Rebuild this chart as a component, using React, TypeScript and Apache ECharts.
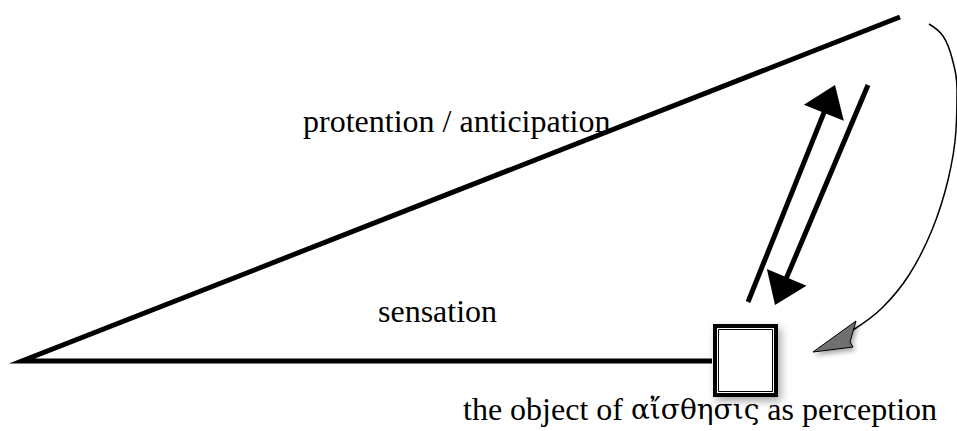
import React, { useEffect, useRef } from "react";
import * as echarts from "echarts";

const W = 957;
const H = 431;

// Diagram geometry (pixel space of the reference)
const triangleEdges: number[][] = [[900, 17], [22, 361], [712, 361]];
const doubleArrows: number[][] = [
  [748, 302, 835, 85],
  [868, 85, 775, 305],
];
const feedbackCurve: number[][] = [
  [929, 24], [943, 36], [952, 58], [957, 90], [956, 130], [948, 180],
  [932, 230], [909, 275], [882, 308], [853, 330],
];
const grayHead: number[][] = [[813, 352], [856, 321], [850, 342], [853, 347]];
const objectBox: number[][] = [[713, 324, 778, 397]];
const labelTexts: string[] = [
  "protention / anticipation",
  "sensation",
  "the object of {g|αἴσθησις} as perception",
];
const labelAnchors: number[][] = [
  [303, 121, 0],
  [378, 311, 1],
  [463, 409, 2],
];

const SERIF = "'Liberation Serif', 'Times New Roman', serif";
const GREEK = "'DejaVu Serif', 'Liberation Serif', serif";

export default function App() {
  const ref = useRef<HTMLDivElement>(null);
  useEffect(() => {
    if (!ref.current) return;
    const chart = echarts.init(ref.current, undefined, { renderer: "svg" });
    chart.setOption({
      animation: false,
      backgroundColor: "#ffffff",
      textStyle: { fontFamily: SERIF },
      grid: { left: 0, right: 0, top: 0, bottom: 0 },
      xAxis: { type: "value", min: 0, max: W, show: false },
      yAxis: { type: "value", min: 0, max: H, inverse: true, show: false },
      series: [
        {
          type: "line",
          name: "triangle",
          data: triangleEdges,
          symbol: "none",
          silent: true,
          lineStyle: { color: "#000", width: 5, join: "miter", miterLimit: 20, cap: "butt" },
        },
        {
          type: "line",
          name: "feedback",
          data: feedbackCurve,
          symbol: "none",
          smooth: 0.4,
          silent: true,
          lineStyle: { color: "#000", width: 1.5 },
        },
        {
          type: "custom",
          name: "arrows",
          coordinateSystem: "cartesian2d",
          clip: false,
          silent: true,
          data: doubleArrows,
          renderItem: (params: any, api: any) => {
            const p1 = api.coord([api.value(0), api.value(1)]);
            const p2 = api.coord([api.value(2), api.value(3)]);
            const dx = p2[0] - p1[0];
            const dy = p2[1] - p1[1];
            const len = Math.hypot(dx, dy);
            const ux = dx / len, uy = dy / len;
            const nx = -uy, ny = ux;
            const L = 30, Wd = 43;
            const bx = p2[0] - ux * L, by = p2[1] - uy * L;
            return {
              type: "group",
              children: [
                {
                  type: "line",
                  shape: { x1: p1[0], y1: p1[1], x2: bx + ux * 3, y2: by + uy * 3 },
                  style: { stroke: "#000", lineWidth: 5 },
                },
                {
                  type: "polygon",
                  shape: {
                    points: [
                      [p2[0], p2[1]],
                      [bx + (nx * Wd) / 2, by + (ny * Wd) / 2],
                      [bx - (nx * Wd) / 2, by - (ny * Wd) / 2],
                    ],
                  },
                  style: { fill: "#000" },
                },
              ],
            };
          },
        },
        {
          type: "custom",
          name: "grayHead",
          coordinateSystem: "cartesian2d",
          clip: false,
          silent: true,
          data: [[0]],
          renderItem: (params: any, api: any) => {
            const pts = grayHead.map((p) => api.coord(p));
            return {
              type: "polygon",
              shape: { points: pts },
              style: {
                fill: "#707070",
                stroke: "#000",
                lineWidth: 1,
                shadowBlur: 5,
                shadowColor: "rgba(0,0,0,0.35)",
                shadowOffsetX: 2,
                shadowOffsetY: 3,
              },
            };
          },
        },
        {
          type: "custom",
          name: "object",
          coordinateSystem: "cartesian2d",
          clip: false,
          silent: true,
          data: objectBox,
          renderItem: (params: any, api: any) => {
            const a = api.coord([api.value(0), api.value(1)]);
            const b = api.coord([api.value(2), api.value(3)]);
            const x = a[0], y = a[1], w = b[0] - a[0], h = b[1] - a[1];
            return {
              type: "group",
              children: [
                {
                  type: "rect",
                  shape: { x: x + 2, y: y + 2, width: w - 4, height: h - 4 },
                  style: {
                    fill: "#fff",
                    stroke: "#000",
                    lineWidth: 4,
                    shadowBlur: 8,
                    shadowColor: "rgba(0,0,0,0.35)",
                    shadowOffsetX: 3,
                    shadowOffsetY: 4,
                  },
                },
                {
                  type: "rect",
                  shape: { x: x + 5.5, y: y + 5.5, width: w - 11, height: h - 11 },
                  style: { fill: "none", stroke: "#000", lineWidth: 1 },
                },
              ],
            };
          },
        },
        {
          type: "custom",
          name: "labels",
          coordinateSystem: "cartesian2d",
          clip: false,
          silent: true,
          data: labelAnchors,
          renderItem: (params: any, api: any) => {
            const p = api.coord([api.value(0), api.value(1)]);
            return {
              type: "text",
              x: p[0],
              y: p[1],
              style: {
                text: labelTexts[api.value(2)],
                fontFamily: SERIF,
                fontSize: 32,
                fill: "#000",
                align: "left",
                verticalAlign: "middle",
                rich: {
                  g: { fontFamily: GREEK, fontSize: 28, fill: "#000" },
                },
              },
            };
          },
        },
      ],
    });
    return () => chart.dispose();
  }, []);
  return (
    <div
      ref={ref}
      style={{ position: "fixed", left: 0, top: 0, width: W, height: H, background: "#fff" }}
    />
  );
}
